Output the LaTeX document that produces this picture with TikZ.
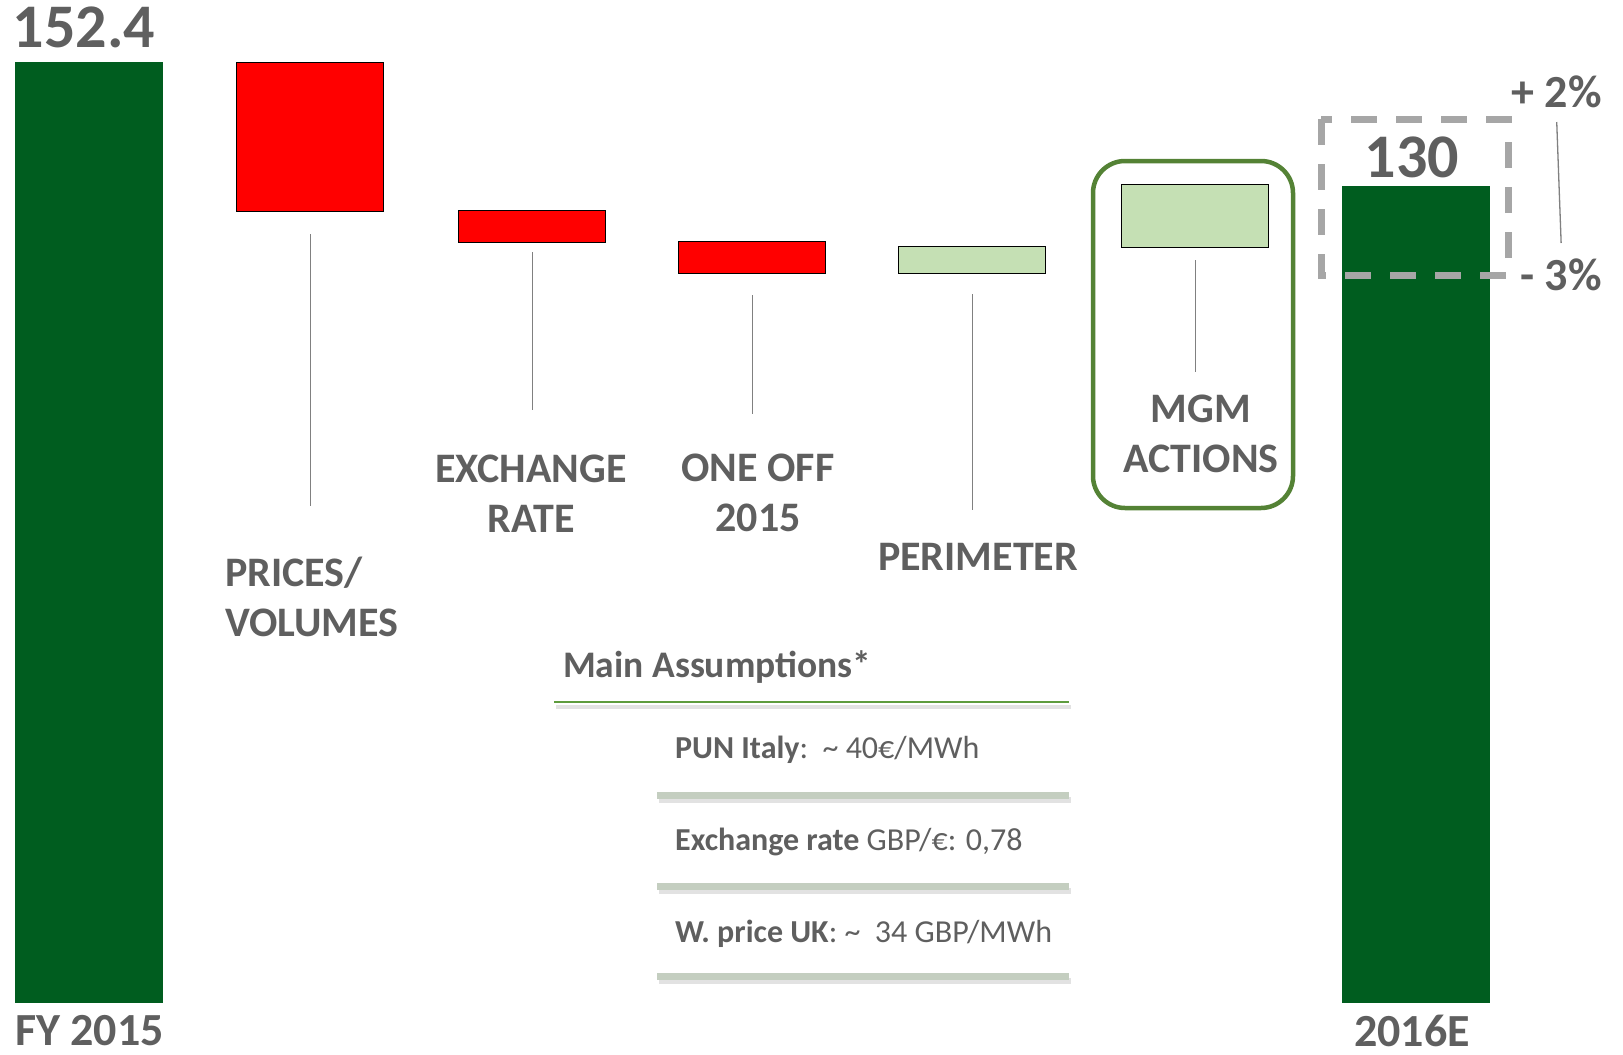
\documentclass[tikz,border=0pt]{standalone}
\usepackage{fontspec}
\setmainfont{Carlito}
\definecolor{ebBar}{HTML}{005D1F}
\definecolor{ebRed}{HTML}{FF0000}
\definecolor{ebPale}{HTML}{C5E0B4}
\definecolor{ebFrame}{HTML}{548235}
\definecolor{ebGreen}{HTML}{5E9C3E}
\definecolor{ebText}{HTML}{5F5F5F}
\definecolor{ebDash}{HTML}{A6A6A6}
\definecolor{ebRule}{HTML}{C4CEC0}
\definecolor{ebShade}{HTML}{E2E2E2}
\definecolor{ebLead}{HTML}{808080}
\usetikzlibrary{positioning}

\begin{document}
\begin{tikzpicture}[x=1pt, y=-1pt,
  total/.style={fill=ebBar, inner sep=0pt, minimum width=148pt, anchor=north west},
  drop/.style={draw=black, line width=1.4pt, fill=ebRed, inner sep=0pt, minimum width=147pt, anchor=north west},
  gain/.style={drop, fill=ebPale},
  cat/.style={font=\fontsize{42}{49.5}\selectfont\bfseries, text=ebText, align=center, inner sep=0pt, anchor=north},
  big/.style={font=\fontsize{62}{70}\selectfont\bfseries, text=ebText, inner sep=0pt, anchor=north},
  spread/.style={font=\fontsize{46}{52}\selectfont\bfseries, text=ebText, inner sep=0pt, anchor=base east},
  leader/.style={draw=ebLead, line width=1.3pt},
  row/.style={font=\fontsize{32}{37}\selectfont, text=ebText, inner sep=0pt, anchor=base west},
  rule/.style={ebRule, line width=7pt}]
  \useasboundingbox (0,0) rectangle (1623,1055);

  % totals
  \node[total, minimum height=941pt] (fy) at (15,62) {};
  \node[total, minimum height=817pt] (e16) at (1342,186) {};
  \node[big] (fyval) at (84,7) {152.4};
  \node[big] (e16val) at (1412,137) {130};
  \node[cat, font=\fontsize{46}{52}\selectfont\bfseries] (fylab) at (89.5,1015) {FY 2015};
  \node[cat, font=\fontsize{46}{52}\selectfont\bfseries] (e16lab) at (1412,1015) {2016E};

  % steps
  \node[drop, minimum height=149pt] (pv) at (236,62) {};
  \node[drop, minimum height=32pt] (ex) at (458,210) {};
  \node[drop, minimum height=32pt] (oo) at (678,241) {};
  \node[gain, minimum height=27pt] (pe) at (898,246) {};
  \node[gain, minimum height=63pt] (mg) at (1121,184) {};

  \node[cat, align=left, anchor=north west] (pvlab) at (225,557) {PRICES/\\VOLUMES};
  \node[cat] (exlab) at (531,455) {EXCHANGE\\RATE};
  \node[cat] (oolab) at (758,454) {ONE OFF\\2015};
  \node[cat] (pelab) at (978,543) {PERIMETER};
  \node[cat] (mglab) at (1201,395) {MGM\\ACTIONS};

  \foreach \src/\lbl/\from/\to in {pv/pvlab/22/51, ex/exlab/9/45, oo/oolab/21/40, pe/pelab/20/33, mg/mglab/12/23}
    \draw[leader] ([yshift=-\from pt]\src.south) -- ([yshift=\to pt]\src.south |- \lbl.north);

  \draw[ebFrame, line width=4.5pt, rounded corners=32pt] (1093,161) rectangle (1293,508);

  % range around the estimate
  \draw[ebDash, line width=7pt, dash pattern=on 26pt off 19pt] (1321,119) rectangle (1508,275);
  \node[spread] (plus) at (1602,107) {+ 2\%};
  \node[spread] (minus) at (1602,290) {- 3\%};
  \draw[leader] ([yshift=-15pt]plus.base) -- ([yshift=47pt]minus.base);

  % assumptions
  \node[row, font=\fontsize{37.5}{43}\selectfont\bfseries] (head) at (563,677) {Main Assumptions*};
  \draw[ebShade, line width=4pt] (556,707) -- (1071,707);
  \draw[ebGreen, line width=2.5pt] (554,702) -- (1069,702);
  \node[row] (pun) at (675,758) {\textbf{PUN Italy}:\ \ \textasciitilde\ 40€/MWh};
  \node[row] (gbp) at (675,850) {\textbf{Exchange rate} GBP/€: 0,78};
  \node[row] (uk) at (675,942) {\textbf{W. price UK}: \textasciitilde\ \ 34 GBP/MWh};
  \foreach \y in {795,886,976} {
    \draw[ebShade, line width=6pt] (659,\y+5) -- (1071,\y+5);
    \draw[rule] (657,\y) -- (1069,\y);
  }
\end{tikzpicture}
\end{document}
